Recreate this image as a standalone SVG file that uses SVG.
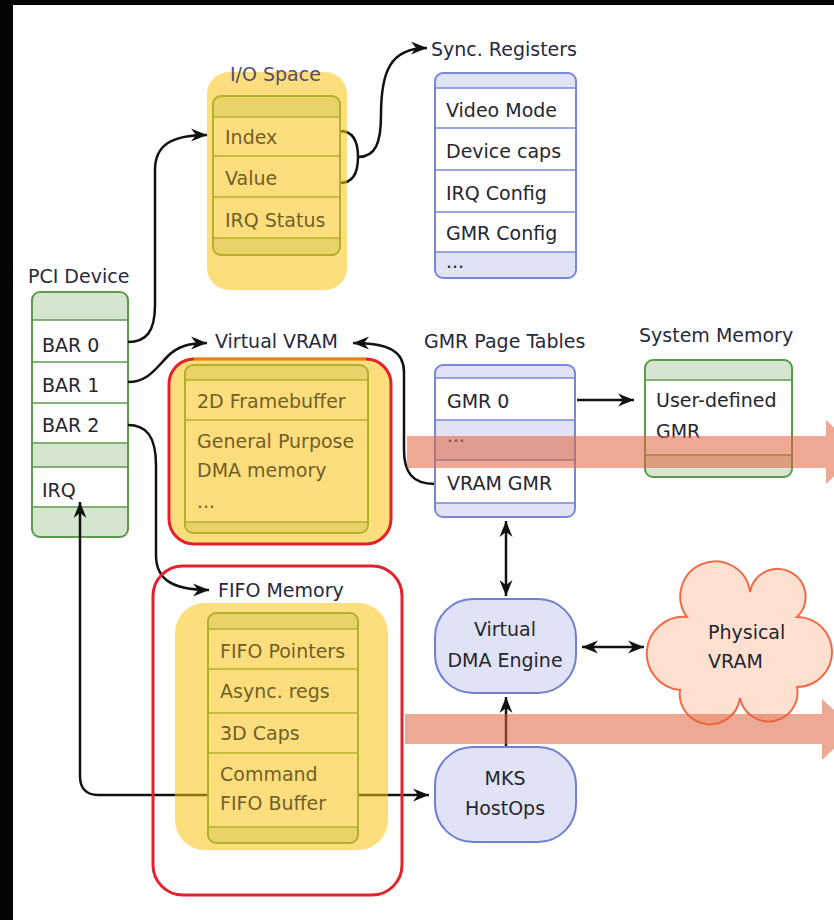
<svg xmlns="http://www.w3.org/2000/svg" width="834" height="920" viewBox="0 0 834 920">
<style>
.title{font-family:"DejaVu Sans","Liberation Sans",sans-serif;font-size:19px;fill:#262a3e}
.lbl{font-family:"DejaVu Sans","Liberation Sans",sans-serif;font-size:19px;fill:#26262e}
.ylbl{font-family:"DejaVu Sans","Liberation Sans",sans-serif;font-size:19px;fill:#735e28}
.g-frame{fill:#d6e5d0;stroke:#5c9a4c;stroke-width:2}
.g-line{stroke:#5c9a4c;stroke-width:1.6}
.b-frame{fill:#dfe3f5;stroke:#7a87d8;stroke-width:2}
.b-line{stroke:#7a87d8;stroke-width:1.6}
.row{fill:#ffffff}
.hl{fill:rgb(250,195,19);opacity:0.55}
.red{fill:none;stroke:#e5222b;stroke-width:3}
.conn{fill:none;stroke:#111;stroke-width:2.5}
.band{fill:#e0623c;opacity:0.55}
.pill{fill:#dfe3f5;stroke:#6f7fd2;stroke-width:2}
</style>
<defs>
<marker id="ah" viewBox="-17 -8 19 16" refX="0" refY="0" markerWidth="19" markerHeight="16" markerUnits="userSpaceOnUse" orient="auto-start-reverse">
<path d="M0,0 L-16,-6.5 L-11,0 L-16,6.5 Z" fill="#111"/>
</marker>
</defs>
<rect x="0" y="0" width="834" height="920" fill="#fff"/>
<rect x="0" y="0" width="834" height="5" fill="#050505"/>
<rect x="0" y="0" width="13" height="920" fill="#050505"/>

<g id="pci-device">
<text class="title" x="28" y="283">PCI Device</text>
<rect class="g-frame" x="32" y="292" width="96" height="245" rx="8"/>
<rect class="row" x="33" y="320" width="94" height="123"/>
<rect class="row" x="33" y="467" width="94" height="40"/>
<line class="g-line" x1="32" y1="320" x2="128" y2="320"/>
<line class="g-line" x1="32" y1="362" x2="128" y2="362"/>
<line class="g-line" x1="32" y1="403" x2="128" y2="403"/>
<line class="g-line" x1="32" y1="443" x2="128" y2="443"/>
<line class="g-line" x1="32" y1="467" x2="128" y2="467"/>
<line class="g-line" x1="32" y1="507" x2="128" y2="507"/>
<text class="lbl" x="42" y="352">BAR 0</text>
<text class="lbl" x="42" y="392">BAR 1</text>
<text class="lbl" x="42" y="432">BAR 2</text>
<text class="lbl" x="42" y="497">IRQ</text>
</g>

<g id="connectors">
<path class="conn" d="M128,342 C146,342 155,332 155,305 L155,170 C155,146 170,135 207,135" marker-end="url(#ah)"/>
<path class="conn" d="M128,382 C148,382 156,368 168,356 C178,346 190,343 207,343" marker-end="url(#ah)"/>
<path class="conn" d="M128,425 C146,425 156,436 156,465 L156,555 C156,578 170,590 209,590" marker-end="url(#ah)"/>
<path class="conn" d="M208,795 L98,795 C86,795 80,788 80,776 L80,502" marker-end="url(#ah)"/>
<path class="conn" d="M358,795 L429,795" marker-end="url(#ah)"/>
<path class="conn" d="M340,131 C354,131 358,143 358,157 C358,171 354,183 340,183"/>
<path class="conn" d="M358,157 C376,157 381,142 381,115 C381,72 390,48 427,48" marker-end="url(#ah)"/>
<path class="conn" d="M435,484 C412,484 404,472 404,450 L404,372 C404,352 390,343 353,343" marker-end="url(#ah)"/>
<path class="conn" d="M577,400 L634,400" marker-end="url(#ah)"/>
<path class="conn" d="M506,521 L506,596" marker-start="url(#ah)" marker-end="url(#ah)"/>
<path class="conn" d="M582,647 L644,647" marker-start="url(#ah)" marker-end="url(#ah)"/>
<path class="conn" d="M506,747 L506,697" marker-end="url(#ah)"/>
</g>

<g id="io-space">
<rect class="g-frame" x="213" y="96" width="127" height="159" rx="8"/>
<rect class="row" x="214" y="117" width="125" height="121"/>
<line class="g-line" x1="213" y1="117" x2="340" y2="117"/>
<line class="g-line" x1="213" y1="156" x2="340" y2="156"/>
<line class="g-line" x1="213" y1="197" x2="340" y2="197"/>
<line class="g-line" x1="213" y1="238" x2="340" y2="238"/>
<rect class="hl" x="207" y="72" width="140" height="218" rx="22"/>
<text class="ylbl" x="225" y="144">Index</text>
<text class="ylbl" x="225" y="185">Value</text>
<text class="ylbl" x="225" y="227">IRQ Status</text>
<text class="title" x="230" y="81" style="fill:#544c6c">I/O Space</text>
</g>

<g id="sync-registers">
<text class="title" x="431" y="56">Sync. Registers</text>
<rect class="b-frame" x="435" y="73" width="141" height="205" rx="8"/>
<rect class="row" x="436" y="88" width="139" height="164"/>
<line class="b-line" x1="435" y1="88" x2="576" y2="88"/>
<line class="b-line" x1="435" y1="128" x2="576" y2="128"/>
<line class="b-line" x1="435" y1="170" x2="576" y2="170"/>
<line class="b-line" x1="435" y1="212" x2="576" y2="212"/>
<line class="b-line" x1="435" y1="252" x2="576" y2="252"/>
<text class="lbl" x="446" y="117">Video Mode</text>
<text class="lbl" x="446" y="158">Device caps</text>
<text class="lbl" x="446" y="200">IRQ Config</text>
<text class="lbl" x="446" y="240">GMR Config</text>
<text class="lbl" x="446" y="268">...</text>
</g>

<g id="virtual-vram">
<text class="title" x="215" y="348">Virtual VRAM</text>
<rect class="g-frame" x="185" y="365" width="183" height="168" rx="8"/>
<rect class="row" x="186" y="380" width="181" height="142"/>
<line class="g-line" x1="185" y1="380" x2="368" y2="380"/>
<line class="g-line" x1="185" y1="420" x2="368" y2="420"/>
<line class="g-line" x1="185" y1="522" x2="368" y2="522"/>
<rect class="hl" x="169" y="359" width="222" height="185" rx="25"/>
<rect class="red" x="169" y="359" width="222" height="185" rx="25"/>
<rect class="hl" x="194" y="357" width="172" height="4"/>
<text class="ylbl" x="197" y="408">2D Framebuffer</text>
<text class="ylbl" x="197" y="448">General Purpose</text>
<text class="ylbl" x="197" y="477">DMA memory</text>
<text class="ylbl" x="197" y="508">...</text>
</g>

<g id="gmr-page-tables">
<text class="title" x="424" y="348">GMR Page Tables</text>
<rect class="b-frame" x="435" y="365" width="140" height="152" rx="8"/>
<rect class="row" x="436" y="378" width="138" height="42"/>
<rect class="row" x="436" y="460" width="138" height="43"/>
<line class="b-line" x1="435" y1="378" x2="575" y2="378"/>
<line class="b-line" x1="435" y1="420" x2="575" y2="420"/>
<line class="b-line" x1="435" y1="460" x2="575" y2="460"/>
<line class="b-line" x1="435" y1="503" x2="575" y2="503"/>
<text class="lbl" x="447" y="408">GMR 0</text>
<text class="lbl" x="447" y="442">...</text>
<text class="lbl" x="447" y="490">VRAM GMR</text>
</g>

<g id="system-memory">
<text class="title" x="639" y="342">System Memory</text>
<rect class="g-frame" x="645" y="360" width="147" height="117" rx="8"/>
<rect class="row" x="646" y="380" width="145" height="75"/>
<line class="g-line" x1="645" y1="380" x2="792" y2="380"/>
<line class="g-line" x1="645" y1="455" x2="792" y2="455"/>
<text class="lbl" x="656" y="407">User-defined</text>
<text class="lbl" x="656" y="438">GMR</text>
</g>

<g id="fifo-memory">
<rect class="red" x="153" y="566" width="249" height="329" rx="30"/>
<text class="title" x="218" y="597">FIFO Memory</text>
<rect class="g-frame" x="208" y="613" width="150" height="230" rx="8"/>
<rect class="row" x="209" y="629" width="148" height="198"/>
<line class="g-line" x1="208" y1="629" x2="358" y2="629"/>
<line class="g-line" x1="208" y1="669" x2="358" y2="669"/>
<line class="g-line" x1="208" y1="713" x2="358" y2="713"/>
<line class="g-line" x1="208" y1="753" x2="358" y2="753"/>
<line class="g-line" x1="208" y1="827" x2="358" y2="827"/>
<rect class="hl" x="175" y="603" width="213" height="247" rx="30"/>
<text class="ylbl" x="220" y="658">FIFO Pointers</text>
<text class="ylbl" x="220" y="698">Async. regs</text>
<text class="ylbl" x="220" y="740">3D Caps</text>
<text class="ylbl" x="220" y="781">Command</text>
<text class="ylbl" x="220" y="810">FIFO Buffer</text>
</g>

<g id="dma-engine">
<rect class="pill" x="435" y="599" width="141" height="94" rx="38"/>
<text class="lbl" x="505" y="636" text-anchor="middle">Virtual</text>
<text class="lbl" x="505" y="667" text-anchor="middle">DMA Engine</text>
</g>

<g id="mks-hostops">
<rect class="pill" x="435" y="747" width="141" height="95" rx="38"/>
<text class="lbl" x="505" y="785" text-anchor="middle">MKS</text>
<text class="lbl" x="505" y="815" text-anchor="middle">HostOps</text>
</g>

<g id="physical-vram">
<path d="M687,617 A35,35 0 1 1 750,592 A28,28 0 1 1 797,617 A35,35 0 1 1 797,687 A29,29 0 1 1 740,698 A30,30 0 1 1 680,690 A36,36 0 1 1 687,617 Z" fill="#fde0cf" stroke="#f06a48" stroke-width="2"/>
<text class="lbl" x="708" y="639">Physical</text>
<text class="lbl" x="708" y="668">VRAM</text>
</g>

<g id="bands">
<path class="band" d="M407,436 L826,436 L826,420 L860,452 L826,484 L826,468 L407,468 Z"/>
<path class="band" d="M405,714 L822,714 L822,699 L855,729 L822,760 L822,744 L405,744 Z"/>
</g>
</svg>
